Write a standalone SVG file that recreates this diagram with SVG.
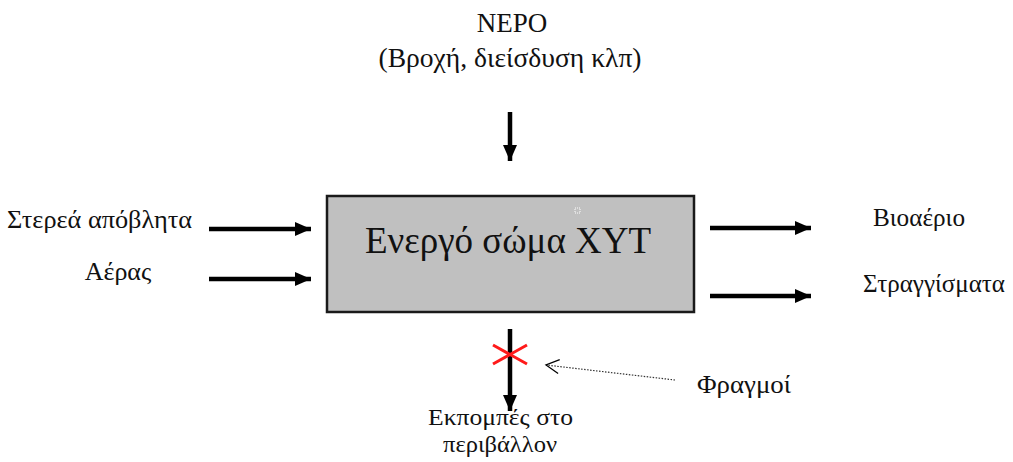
<svg xmlns="http://www.w3.org/2000/svg" width="1013" height="462" viewBox="0 0 1013 462">
<style>
text{font-family:"Liberation Serif","DejaVu Serif",serif;fill:#111}
.l{font-size:26px}
.t{font-size:27px}
.e{font-size:24px}
.thick{stroke:#000;stroke-width:4.5;fill:none}
</style>
<defs>
<marker id="ah" markerUnits="userSpaceOnUse" markerWidth="18" markerHeight="16" refX="16" refY="8" orient="auto">
<path d="M0,1 L16,8 L0,15 Z" fill="#000"/>
</marker>
<marker id="open" markerUnits="userSpaceOnUse" markerWidth="16" markerHeight="16" refX="14" refY="8" orient="auto">
<path d="M1,1 L14,8 L1,15" fill="none" stroke="#000" stroke-width="1.3"/>
</marker>
</defs>
<rect width="1013" height="462" fill="#fff"/>
<g id="box">
<rect x="327" y="196" width="367" height="116" fill="#c0c0c0" stroke="#1a1a1a" stroke-width="2.5"/>
<rect x="575" y="208" width="5" height="5" fill="none" stroke="#fff" stroke-width="1" stroke-dasharray="1,1"/>
<text x="508" y="253" font-size="37" text-anchor="middle">Ενεργό σώμα ΧΥΤ</text>
</g>
<g id="water">
<text class="t" x="512" y="32" text-anchor="middle">ΝΕΡΟ</text>
<text class="t" x="510" y="67" text-anchor="middle" textLength="263" lengthAdjust="spacingAndGlyphs">(Βροχή, διείσδυση κλπ)</text>
</g>
<g id="solid"><text class="l" x="7" y="228" textLength="185" lengthAdjust="spacingAndGlyphs">Στερεά απόβλητα</text></g>
<g id="air"><text class="l" x="118" y="280" text-anchor="middle">Αέρας</text></g>
<g id="biogas"><text class="l" x="873" y="226" textLength="92" lengthAdjust="spacingAndGlyphs">Βιοαέριο</text></g>
<g id="leachate"><text class="l" x="863" y="292" textLength="142" lengthAdjust="spacingAndGlyphs">Στραγγίσματα</text></g>
<g id="emissions">
<text class="e" x="428" y="425" textLength="145" lengthAdjust="spacingAndGlyphs">Εκπομπές στο</text>
<text class="e" x="443" y="452" textLength="114" lengthAdjust="spacingAndGlyphs">περιβάλλον</text>
</g>
<g id="barriers"><text class="l" x="697" y="393" textLength="94" lengthAdjust="spacingAndGlyphs">Φραγμοί</text></g>
<g id="connectors">
<line class="thick" x1="510" y1="112" x2="510" y2="161" marker-end="url(#ah)"/>
<line class="thick" x1="209" y1="229" x2="311" y2="229" marker-end="url(#ah)"/>
<line class="thick" x1="209" y1="279" x2="311" y2="279" marker-end="url(#ah)"/>
<line class="thick" x1="710" y1="228" x2="811" y2="228" marker-end="url(#ah)"/>
<line class="thick" x1="710" y1="296" x2="811" y2="296" marker-end="url(#ah)"/>
<line class="thick" x1="510" y1="329" x2="510" y2="411" marker-end="url(#ah)"/>
<line x1="675" y1="380" x2="546" y2="365" stroke="#333" stroke-width="1.2" stroke-dasharray="1.5,1.5" marker-end="url(#open)"/>
<path d="M493,345 L527,364 M493,364 L527,345" stroke="#ff1a1a" stroke-width="3" fill="none"/>
</g>
</svg>
